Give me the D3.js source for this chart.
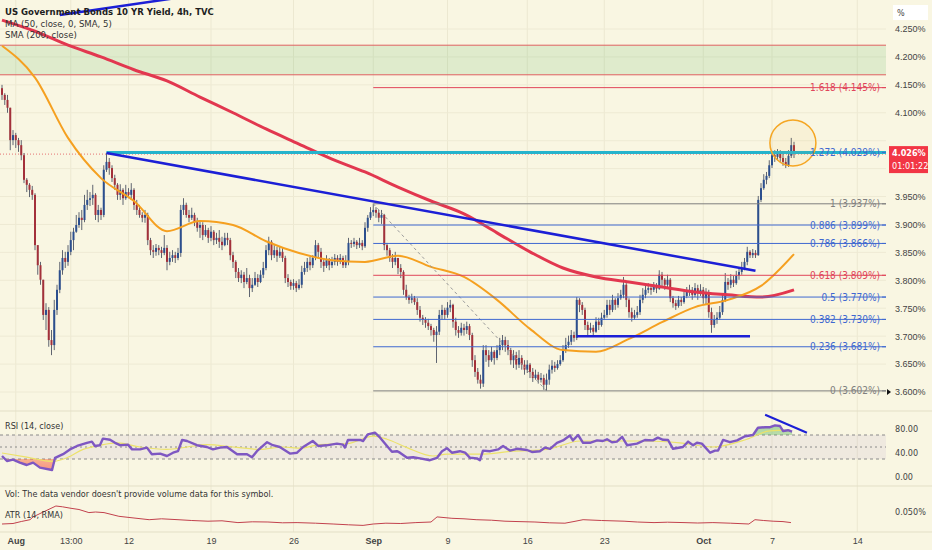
<!DOCTYPE html>
<html><head><meta charset="utf-8">
<script src="https://cdn.jsdelivr.net/npm/d3@7"></script>
<style>
html,body{margin:0;padding:0;background:#f9f6e2;}
svg{display:block;font-family:"Liberation Sans Narrow","DejaVu Sans Condensed","Roboto Condensed","Liberation Sans",sans-serif;}
</style></head><body>
<svg id="c" width="932" height="550"></svg>
<script>
// ---------------- DATA ----------------
const title = "US Government Bonds 10 YR Yield, 4h, TVC";
const legendMA = "MA (50, close, 0, SMA, 5)";
const legendSMA = "SMA (200, close)";
const firstOpen = 4.144;
const closes = [
4.132,4.123,4.109,4.051,4.060,4.051,4.042,4.024,3.980,3.971,
3.962,3.953,3.863,3.827,3.801,3.738,3.747,3.693,3.684,3.747,
3.783,3.818,3.840,3.833,3.851,3.872,3.887,3.899,3.912,3.908,
3.935,3.944,3.947,3.953,3.917,3.926,3.917,3.998,4.012,4.001,
3.983,3.971,3.953,3.962,3.947,3.958,3.953,3.962,3.935,3.926,
3.917,3.912,3.917,3.872,3.854,3.851,3.858,3.854,3.849,3.858,
3.833,3.840,3.845,3.840,3.849,3.926,3.935,3.917,3.912,3.917,
3.904,3.894,3.899,3.881,3.890,3.876,3.887,3.872,3.876,3.869,
3.863,3.876,3.872,3.845,3.833,3.815,3.804,3.810,3.797,3.804,
3.786,3.792,3.804,3.797,3.810,3.822,3.854,3.869,3.845,3.854,
3.844,3.851,3.840,3.804,3.797,3.790,3.795,3.786,3.792,3.815,
3.822,3.833,3.827,3.840,3.863,3.851,3.833,3.826,3.836,3.827,
3.833,3.840,3.833,3.840,3.827,3.833,3.867,3.865,3.869,3.863,
3.867,3.861,3.894,3.912,3.922,3.926,3.921,3.912,3.917,3.863,
3.854,3.840,3.833,3.840,3.822,3.815,3.783,3.770,3.765,3.768,
3.761,3.747,3.733,3.729,3.724,3.718,3.711,3.702,3.708,3.738,
3.747,3.738,3.751,3.756,3.726,3.711,3.706,3.715,3.711,3.718,
3.702,3.657,3.636,3.622,3.615,3.675,3.666,3.657,3.672,3.661,
3.675,3.684,3.693,3.684,3.675,3.657,3.666,3.649,3.661,3.649,
3.640,3.649,3.636,3.625,3.631,3.622,3.625,3.613,3.622,3.640,
3.647,3.643,3.650,3.657,3.675,3.684,3.690,3.702,3.697,3.765,
3.756,3.747,3.720,3.711,3.715,3.708,3.726,3.720,3.733,3.738,
3.756,3.747,3.765,3.756,3.768,3.774,3.792,3.765,3.743,3.733,
3.738,3.743,3.765,3.774,3.783,3.786,3.783,3.790,3.785,3.810,
3.801,3.792,3.801,3.768,3.759,3.754,3.765,3.761,3.772,3.779,
3.783,3.774,3.786,3.777,3.783,3.768,3.779,3.743,3.720,3.729,
3.733,3.743,3.765,3.797,3.792,3.801,3.795,3.808,3.815,3.822,
3.833,3.851,3.845,3.849,3.845,3.944,3.965,3.980,3.987,4.006,
4.024,4.021,4.030,4.019,4.012,4.006,4.023,4.042,4.026];
const highs = [
4.150,4.135,4.132,4.109,4.069,4.064,4.055,4.051,4.028,3.983,
3.974,3.969,3.956,3.863,3.833,3.801,3.759,3.752,3.711,3.765,
3.792,3.833,3.854,3.851,3.863,3.887,3.894,3.917,3.922,3.926,
3.953,3.962,3.958,3.971,3.956,3.935,3.930,4.006,4.028,4.019,
4.006,3.989,3.974,3.972,3.965,3.971,3.965,3.974,3.965,3.944,
3.935,3.922,3.926,3.921,3.876,3.863,3.865,3.863,3.860,3.881,
3.863,3.851,3.854,3.851,3.858,3.935,3.947,3.939,3.926,3.930,
3.921,3.912,3.908,3.904,3.899,3.894,3.897,3.890,3.885,3.890,
3.878,3.885,3.885,3.876,3.851,3.836,3.822,3.818,3.815,3.822,
3.810,3.804,3.815,3.811,3.818,3.833,3.863,3.878,3.872,3.863,
3.860,3.861,3.858,3.844,3.811,3.801,3.802,3.799,3.802,3.826,
3.833,3.840,3.842,3.845,3.872,3.867,3.858,3.840,3.845,3.840,
3.842,3.847,3.845,3.847,3.844,3.845,3.876,3.872,3.876,3.872,
3.876,3.872,3.904,3.917,3.931,3.937,3.931,3.926,3.926,3.919,
3.867,3.858,3.847,3.851,3.840,3.829,3.818,3.792,3.774,3.776,
3.772,3.768,3.754,3.738,3.734,3.731,3.722,3.715,3.718,3.747,
3.756,3.751,3.761,3.765,3.758,3.733,3.718,3.724,3.722,3.726,
3.722,3.706,3.666,3.643,3.631,3.684,3.684,3.675,3.681,3.675,
3.684,3.697,3.702,3.699,3.693,3.679,3.675,3.672,3.675,3.666,
3.657,3.657,3.652,3.643,3.640,3.636,3.634,3.631,3.633,3.649,
3.657,3.654,3.657,3.666,3.684,3.697,3.701,3.711,3.708,3.770,
3.768,3.761,3.751,3.726,3.724,3.720,3.734,3.733,3.742,3.747,
3.765,3.765,3.774,3.768,3.777,3.783,3.806,3.795,3.768,3.751,
3.747,3.754,3.774,3.786,3.792,3.795,3.792,3.797,3.795,3.818,
3.815,3.804,3.810,3.804,3.772,3.765,3.772,3.770,3.779,3.788,
3.792,3.788,3.795,3.792,3.793,3.788,3.786,3.783,3.751,3.738,
3.743,3.754,3.774,3.813,3.804,3.811,3.808,3.817,3.822,3.833,
3.840,3.860,3.854,3.856,3.854,3.951,3.974,3.990,3.994,4.015,
4.032,4.033,4.035,4.033,4.030,4.019,4.033,4.055,4.048];
const lows = [
4.123,4.114,4.100,4.033,4.042,4.037,4.030,4.015,3.974,3.958,
3.949,3.944,3.854,3.810,3.792,3.729,3.711,3.681,3.666,3.675,
3.738,3.777,3.810,3.822,3.826,3.845,3.854,3.885,3.894,3.890,
3.904,3.926,3.933,3.935,3.908,3.904,3.908,3.913,3.994,3.989,
3.976,3.962,3.944,3.944,3.935,3.944,3.947,3.944,3.926,3.917,
3.912,3.904,3.903,3.863,3.845,3.840,3.844,3.845,3.840,3.845,
3.818,3.827,3.833,3.831,3.836,3.842,3.917,3.912,3.904,3.908,
3.897,3.887,3.876,3.872,3.878,3.867,3.870,3.863,3.865,3.858,
3.854,3.861,3.863,3.836,3.822,3.804,3.797,3.795,3.786,3.793,
3.770,3.779,3.790,3.788,3.795,3.804,3.818,3.845,3.836,3.840,
3.833,3.840,3.833,3.795,3.788,3.783,3.783,3.779,3.783,3.786,
3.810,3.815,3.818,3.822,3.836,3.840,3.822,3.815,3.822,3.818,
3.822,3.827,3.826,3.829,3.822,3.822,3.827,3.858,3.860,3.856,
3.858,3.854,3.858,3.887,3.908,3.915,3.912,3.904,3.901,3.854,
3.844,3.833,3.822,3.827,3.811,3.804,3.774,3.765,3.758,3.759,
3.756,3.738,3.726,3.720,3.715,3.711,3.701,3.690,3.652,3.702,
3.729,3.729,3.733,3.743,3.715,3.701,3.697,3.701,3.701,3.704,
3.693,3.645,3.627,3.615,3.606,3.609,3.654,3.645,3.654,3.649,
3.657,3.666,3.675,3.672,3.666,3.649,3.643,3.640,3.643,3.640,
3.631,3.634,3.625,3.618,3.622,3.615,3.617,3.604,3.602,3.613,
3.633,3.636,3.640,3.647,3.654,3.670,3.679,3.684,3.690,3.693,
3.743,3.738,3.711,3.702,3.706,3.702,3.706,3.711,3.717,3.729,
3.733,3.738,3.743,3.747,3.751,3.765,3.768,3.752,3.733,3.726,
3.729,3.733,3.738,3.759,3.768,3.777,3.774,3.779,3.777,3.783,
3.790,3.783,3.786,3.761,3.751,3.747,3.751,3.754,3.758,3.768,
3.772,3.765,3.770,3.765,3.772,3.758,3.756,3.733,3.706,3.715,
3.722,3.729,3.738,3.761,3.783,3.786,3.788,3.792,3.801,3.810,
3.818,3.827,3.840,3.840,3.840,3.844,3.940,3.962,3.972,3.983,
4.001,4.012,4.015,4.012,4.005,4.001,4.003,4.019,4.019];

const maBars  = [0,12,24,36,48,60,72,84,96,108,120,132,144,156,168,180,192,204,216,228,240,252,264,276,288];
const sma200  = [4.266,4.246,4.221,4.200,4.177,4.157,4.128,4.100,4.071,4.044,4.017,3.994,3.967,3.942,3.919,3.885,3.851,3.822,3.806,3.797,3.788,3.779,3.774,3.770,3.783];
const ma50    = [4.220,4.163,4.055,3.983,3.942,3.888,3.906,3.899,3.870,3.849,3.836,3.833,3.844,3.824,3.806,3.765,3.713,3.675,3.672,3.695,3.725,3.752,3.765,3.790,3.847];

const tickBars   = [5,25,46,76,106,135,162,191,219,255,280,311];
const tickLabels = ["Aug","13:00","12","19","26","Sep","9","16","23","Oct","7","14"];
const monthLabels = ["Aug","Sep","Oct"];
const priceTicks = [3.60,3.65,3.70,3.75,3.80,3.85,3.90,3.95,4.00,4.05,4.10,4.15,4.20,4.25];

const fibRatios = [0,0.236,0.382,0.5,0.618,0.786,0.886,1,1.272,1.618];
const fibValues = [3.602,3.681,3.730,3.770,3.809,3.866,3.899,3.937,4.029,4.145];
const fibStartBar = 135;
const fibTrend = [[135,3.937],[198,3.602]];

const zoneBottom = 4.168, zoneTop = 4.221;
const resistance = {bar:38, value:4.029};
const downTrend = [[38,4.028],[274,3.817]];
const supportLine = [[209,3.700],[272,3.700]];
const topTrend = [[21,4.275],[64,4.306]];
const highlight = {bar:287.6, value:4.046};
const lastPrice = 4.026, countdown = "01:01:22";

const rsiLabel = "RSI (14, close)";
const rsiPts = [[0,35],[1.8,26.7],[4,29],[6.5,24],[9,20],[11.3,24],[13.8,15.6],[18.2,11.7],[19.3,32],[22.2,38],[24.7,46],[27.3,51.7],[30.9,57],[32.7,59],[33.8,51.7],[35.6,53],[36.7,64],[39.3,62],[41.1,57],[42.9,53],[45.8,54],[47.3,46],[50.2,46],[52.7,49],[54.5,38],[57.5,39],[60,35],[62.2,40.5],[64,43],[65.5,61.7],[67.3,60],[70.9,53],[74.5,50],[76.7,46],[79.3,49],[81.8,50],[85.5,38],[89.1,38],[90.9,33],[92.7,43],[96.4,58],[98.5,53],[101,50],[104.7,39],[107.3,40.5],[109.5,50],[113,60],[115,51.7],[118,52.8],[121.8,55.6],[124,54],[124.7,49],[125.8,61.7],[130.2,61.7],[131.3,60],[133,71],[135.6,74],[137.5,65.6],[140,51.7],[141.8,42],[143.6,43],[144.7,40.5],[147.3,32],[149.5,33],[152,31],[155.6,28],[158.2,32],[160,43],[161.8,48],[163.6,40.5],[166.5,43],[168.4,40.5],[170.2,32],[172.7,31],[173.8,28],[174.9,44],[177.5,43],[180.4,46],[182.2,51.7],[184.7,44],[187.3,47],[190.9,45],[192.7,41.7],[195.6,43],[197.5,49],[199.3,47],[201.8,57],[204,61],[206.5,69],[207.6,61],[209.5,70],[211.3,57],[213.8,57],[216.4,61],[218.5,60],[220,62.8],[221.8,58],[223.6,59],[225.5,67],[227.3,53],[230.9,55.6],[233.8,61.7],[236.7,61],[238.5,65.6],[240.4,62],[242.2,61.7],[244,47],[247.6,50],[249.5,59],[251.3,53],[252.7,57],[254.5,55.6],[257.5,40.5],[259.3,44],[260.4,44],[262.2,61.7],[264.7,58],[267.3,61],[270.2,68],[273.1,70],[274.9,82],[277.5,83],[279.3,83],[281.1,86],[282.9,85],[284,76.7],[285.8,78],[287.3,75.6]];
const rsiMaPts = [[0,40],[9,33],[18.5,26],[23.6,32],[29.5,46],[35.6,53],[41.8,57],[50.2,50],[60,46],[67.3,50],[74.5,54],[84,50],[93.8,46],[102.2,50],[108.4,48],[115.6,54],[125.5,55.6],[135,68],[140,63],[147.3,49],[156.7,35],[161.8,38],[173.8,38],[185.8,43],[198.2,46],[210.2,60],[222.2,60],[234.5,60],[246.5,57],[258.5,50],[270.9,63],[279.3,77],[286.5,78]];
const rsiTrend = [[277.5,103.8],[292.7,73.8]];
const rsiTicks = [80,40,0];

const volText = "Vol: The data vendor doesn't provide volume data for this symbol.";
const atrLabel = "ATR (14, RMA)";
const atrPts = [[0,0.038],[4,0.0385],[7,0.0405],[10.2,0.0423],[11.3,0.0451],[15,0.050],[19.6,0.056],[22,0.0552],[25.1,0.0537],[28,0.0525],[31.6,0.0494],[34,0.0500],[37.1,0.0494],[42.5,0.0457],[48,0.0440],[53.5,0.0423],[58,0.0432],[64,0.0423],[69,0.0415],[74.9,0.0408],[80,0.0412],[85.8,0.0394],[91,0.0402],[96.7,0.040],[102,0.0392],[107.3,0.0394],[114,0.0388],[120.4,0.038],[126,0.0372],[131.3,0.0366],[135,0.0380],[139.6,0.0388],[145,0.0385],[150.5,0.0394],[156,0.040],[158.2,0.0451],[163.6,0.0437],[168,0.0432],[172.4,0.0423],[178,0.0418],[182.9,0.0408],[188,0.0404],[193.8,0.040],[199,0.0392],[204.7,0.0388],[208,0.0405],[211.3,0.0423],[218,0.0415],[226.2,0.0408],[231,0.0400],[237.1,0.0394],[242,0.0398],[248,0.0394],[253,0.0390],[258.5,0.0394],[265,0.0388],[271.6,0.038],[273.8,0.0423],[277,0.0415],[280.4,0.0408],[284,0.0404],[286.9,0.0394]];
const atrTick = 0.050;

// ---------------- CHART ----------------
const svg = d3.select("#c");
const W = 932, H = 550, plotRight = 886;
const BG = "#f9f6e2";
const x = d3.scaleLinear().domain([0, 288]).range([2, 794]);
const y = d3.scaleLinear().domain([3.60, 4.25]).range([392, 29]);
const ry = d3.scaleLinear().domain([0, 100]).range([477, 417]);
const ay = d3.scaleLinear().domain([0.04, 0.05]).range([522, 512]);
const FS = 9;

svg.append("rect").attr("width", W).attr("height", H).attr("fill", BG);
const defs = svg.append("defs");
defs.append("clipPath").attr("id","pclip").append("rect").attr("x",0).attr("y",0).attr("width",plotRight).attr("height",410);
defs.append("clipPath").attr("id","ob").append("rect").attr("x",0).attr("y",0).attr("width",plotRight).attr("height",ry(70));
defs.append("clipPath").attr("id","os").append("rect").attr("x",0).attr("y",ry(30)).attr("width",plotRight).attr("height",60);
const g1 = defs.append("linearGradient").attr("id","gob").attr("x1",0).attr("x2",0).attr("y1",0).attr("y2",1);
g1.append("stop").attr("offset","0%").attr("stop-color","#4caf50").attr("stop-opacity",0.45);
g1.append("stop").attr("offset","100%").attr("stop-color","#4caf50").attr("stop-opacity",0.05);
const g2 = defs.append("linearGradient").attr("id","gos").attr("x1",0).attr("x2",0).attr("y1",0).attr("y2",1);
g2.append("stop").attr("offset","0%").attr("stop-color","#ff9800").attr("stop-opacity",0.1);
g2.append("stop").attr("offset","100%").attr("stop-color","#f44336").attr("stop-opacity",0.55);

// grids
const grid = svg.append("g");
grid.selectAll("line.v").data(tickBars).join("line")
  .attr("x1", d=>x(d)).attr("x2", d=>x(d)).attr("y1",0).attr("y2",532)
  .attr("stroke","#ece8d1").attr("stroke-width",1);
grid.selectAll("line.h").data(priceTicks).join("line")
  .attr("x1",0).attr("x2",plotRight).attr("y1",d=>y(d)).attr("y2",d=>y(d))
  .attr("stroke","#eeead4").attr("stroke-width",1);
[411, 486, 532].forEach(v => svg.append("line").attr("x1",0).attr("x2",W).attr("y1",v).attr("y2",v).attr("stroke","#e3dfc6"));

const P = svg.append("g").attr("clip-path","url(#pclip)");

// green zone
P.append("rect").attr("x",0).attr("width",plotRight).attr("y",y(zoneTop)).attr("height",y(zoneBottom)-y(zoneTop))
  .attr("fill","#4caf50").attr("fill-opacity",0.15);
[zoneTop, zoneBottom].forEach(v => P.append("line").attr("x1",0).attr("x2",plotRight).attr("y1",y(v)).attr("y2",y(v)).attr("stroke","#e06060").attr("stroke-width",1));

// last price dotted line
P.append("line").attr("x1",0).attr("x2",plotRight).attr("y1",y(lastPrice)).attr("y2",y(lastPrice))
  .attr("stroke","#e57373").attr("stroke-dasharray","1,2").attr("stroke-width",1);

// candles
const bars = closes.map((c,i)=>{
  const o = i===0 ? firstOpen : closes[i-1];
  return {i, o, c, h: Math.max(highs[i], o, c), l: Math.min(lows[i], o, c)};
});
const cg = P.append("g");
cg.selectAll("line").data(bars).join("line")
  .attr("x1",d=>x(d.i)).attr("x2",d=>x(d.i)).attr("y1",d=>y(d.h)).attr("y2",d=>y(d.l))
  .attr("stroke","#5f6470").attr("stroke-width",1);
cg.selectAll("rect").data(bars).join("rect")
  .attr("x",d=>x(d.i)-1).attr("width",2)
  .attr("y",d=>y(Math.max(d.o,d.c))).attr("height",d=>Math.max(1, Math.abs(y(d.o)-y(d.c))))
  .attr("fill",d=>d.c>=d.o ? "#2c4f8e" : "#a3303a");

// MAs
const maLine = d3.line().x((d,i)=>x(maBars[i])).y(d=>y(d)).curve(d3.curveMonotoneX);
P.append("path").attr("d", maLine(sma200)).attr("fill","none").attr("stroke","#e2374f").attr("stroke-width",3);
P.append("path").attr("d", maLine(ma50)).attr("fill","none").attr("stroke","#f5a020").attr("stroke-width",2);

// fib
function fibColor(r){ if(r===0||r===1) return "#7f7f7f"; if(r===0.618||r===1.618) return "#e0455a"; return "#3f68d0"; }
P.append("line").attr("x1",x(fibTrend[0][0])).attr("y1",y(fibTrend[0][1])).attr("x2",x(fibTrend[1][0])).attr("y2",y(fibTrend[1][1]))
  .attr("stroke","#9a9a9a").attr("stroke-dasharray","3,3").attr("stroke-width",1);
fibRatios.forEach((r,k)=>{
  const v = fibValues[k], col = fibColor(r);
  P.append("line").attr("x1",x(fibStartBar)).attr("x2",plotRight).attr("y1",y(v)).attr("y2",y(v)).attr("stroke",col).attr("stroke-width",1);
  svg.append("text").attr("x",880).attr("y",y(v)).attr("dy","0.35em").attr("text-anchor","end")
    .attr("font-size",10).attr("fill",col).text(`${r} (${v.toFixed(3)}%)`);
  svg.append("line").attr("x1",882).attr("x2",886).attr("y1",y(v)).attr("y2",y(v)).attr("stroke",col).attr("stroke-width",1);
});

// trend lines
P.append("line").attr("x1",x(resistance.bar)).attr("x2",plotRight).attr("y1",y(resistance.value)).attr("y2",y(resistance.value))
  .attr("stroke","#26b3cc").attr("stroke-width",3);
P.append("line").attr("x1",x(downTrend[0][0])).attr("y1",y(downTrend[0][1])).attr("x2",x(downTrend[1][0])).attr("y2",y(downTrend[1][1]))
  .attr("stroke","#1c1fd6").attr("stroke-width",2.5);
P.append("line").attr("x1",x(supportLine[0][0])).attr("y1",y(supportLine[0][1])).attr("x2",x(supportLine[1][0])).attr("y2",y(supportLine[1][1]))
  .attr("stroke","#1c1fd6").attr("stroke-width",2.5);
P.append("line").attr("x1",x(topTrend[0][0])).attr("y1",y(topTrend[0][1])).attr("x2",x(topTrend[1][0])).attr("y2",y(topTrend[1][1]))
  .attr("stroke","#1c1fd6").attr("stroke-width",2.5);
P.append("circle").attr("cx",x(highlight.bar)).attr("cy",y(highlight.value)).attr("r",23)
  .attr("fill","#f5a623").attr("fill-opacity",0.06).attr("stroke","#f5a623").attr("stroke-width",1.5);

// legend
svg.append("text").attr("x",5).attr("y",15).attr("font-size",FS+0.5).attr("font-weight","bold").attr("fill","#1e1e1e").text(title);
svg.append("text").attr("x",5).attr("y",27).attr("font-size",FS+0.5).attr("fill","#333").text(legendMA);
svg.append("text").attr("x",5).attr("y",38).attr("font-size",FS+0.5).attr("fill","#333").text(legendSMA);

// right price axis (the 4.000% tick is hidden behind the last-price label, as in the reference)
const shownTicks = priceTicks.filter(v => Math.abs(y(v) - y(lastPrice)) > 20);
const ax = svg.append("g").attr("transform",`translate(889,0)`)
  .call(d3.axisRight(y).tickValues(shownTicks).tickFormat(d=>d.toFixed(3)+"%").tickSize(0).tickPadding(6));
ax.select(".domain").remove();
ax.selectAll("text").attr("font-size",FS).attr("fill","#444").attr("font-family",null);
svg.append("rect").attr("x",893).attr("y",5).attr("width",35).attr("height",15).attr("fill","#ffffff");
svg.append("text").attr("x",897).attr("y",16).attr("font-size",FS).attr("fill","#444").text("%");
svg.append("path").attr("d",`M887,${y(3.6)-3}L891,${y(3.6)}L887,${y(3.6)+3}Z`).attr("fill","#111");
// last price label
const ly = y(lastPrice);
svg.append("rect").attr("x",889).attr("y",ly-8).attr("width",39).attr("height",27).attr("fill","#f23645");
svg.append("text").attr("x",892).attr("y",ly+2).attr("font-size",FS).attr("font-weight","bold").attr("fill","#fff").text(lastPrice.toFixed(3)+"%");
svg.append("text").attr("x",892).attr("y",ly+15).attr("font-size",FS).attr("fill","#fff").text(countdown);

// RSI panel
svg.append("rect").attr("x",0).attr("width",plotRight).attr("y",ry(70)).attr("height",ry(30)-ry(70)).attr("fill","#7e57c2").attr("fill-opacity",0.08);
[[70,"3,3"],[50,"2,3"],[30,"3,3"]].forEach(([v,da])=>svg.append("line").attr("x1",0).attr("x2",plotRight).attr("y1",ry(v)).attr("y2",ry(v))
  .attr("stroke","#8a8a8a").attr("stroke-dasharray",da).attr("stroke-width",1));
const rl = d3.line().x(d=>x(d[0])).y(d=>ry(d[1]));
svg.append("path").attr("clip-path","url(#ob)").attr("d", d3.area().x(d=>x(d[0])).y0(ry(70)).y1(d=>ry(d[1]))(rsiPts)).attr("fill","url(#gob)");
svg.append("path").attr("clip-path","url(#os)").attr("d", d3.area().x(d=>x(d[0])).y0(ry(30)).y1(d=>ry(d[1]))(rsiPts)).attr("fill","url(#gos)");
svg.append("path").attr("d", d3.line().x(d=>x(d[0])).y(d=>ry(d[1])).curve(d3.curveMonotoneX)(rsiMaPts)).attr("fill","none").attr("stroke","#ece26a").attr("stroke-width",1.2);
svg.append("path").attr("d", rl(rsiPts)).attr("fill","none").attr("stroke","#7e57c2").attr("stroke-width",2.4).attr("stroke-linejoin","round");
svg.append("line").attr("x1",x(rsiTrend[0][0])).attr("y1",ry(rsiTrend[0][1])).attr("x2",x(rsiTrend[1][0])).attr("y2",ry(rsiTrend[1][1]))
  .attr("stroke","#1c1fd6").attr("stroke-width",2);
svg.append("text").attr("x",5).attr("y",429).attr("font-size",FS).attr("fill","#333").text(rsiLabel);
rsiTicks.forEach(v=>svg.append("text").attr("x",895).attr("y",ry(v)).attr("dy","0.35em").attr("font-size",FS).attr("fill","#444").text(v.toFixed(2)));

// Volume / ATR
svg.append("text").attr("x",5).attr("y",497).attr("font-size",FS).attr("fill","#333").text(volText);
svg.append("path").attr("d", d3.line().x(d=>x(d[0])).y(d=>ay(d[1]))(atrPts)).attr("fill","none").attr("stroke","#c2414d").attr("stroke-width",1);
svg.append("text").attr("x",5).attr("y",518).attr("font-size",FS).attr("fill","#333").text(atrLabel);
svg.append("text").attr("x",895).attr("y",ay(atrTick)).attr("dy","0.35em").attr("font-size",FS).attr("fill","#444").text(atrTick.toFixed(3)+"%");

// time axis
const bx = svg.append("g").attr("transform","translate(0,533)")
  .call(d3.axisBottom(x).tickValues(tickBars).tickFormat((d,i)=>tickLabels[i]).tickSize(0).tickPadding(5));
bx.select(".domain").remove();
bx.selectAll("text").attr("font-size",FS).attr("fill","#444").attr("font-family",null)
  .attr("font-weight",(d,i)=>monthLabels.includes(tickLabels[i]) ? "bold" : "normal");
</script>
</body></html>
